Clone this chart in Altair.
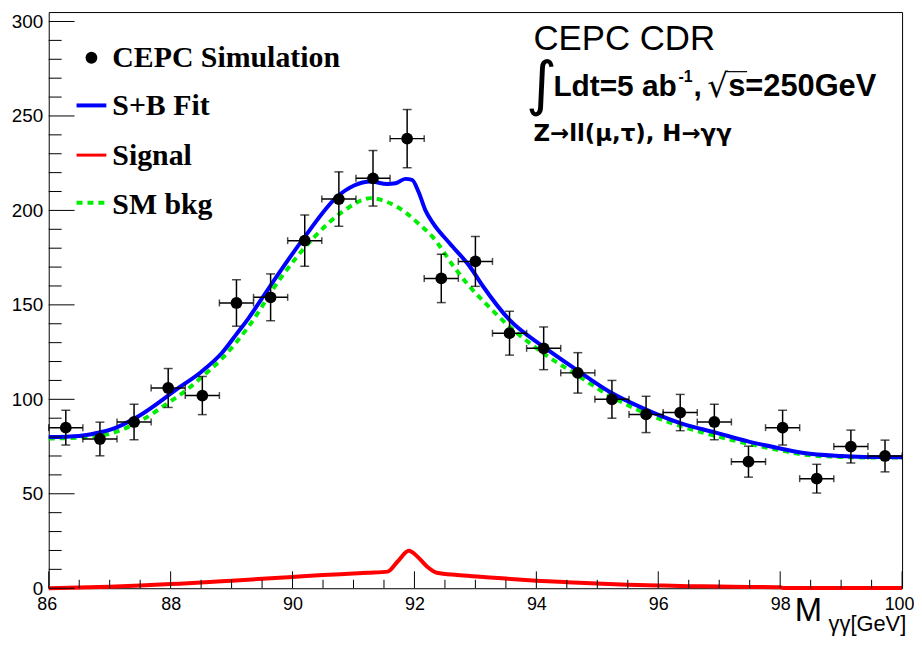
import altair as alt
import pandas as pd

# ---------------- data ----------------
bin_center = [86.28, 86.84, 87.40, 87.96, 88.52, 89.08, 89.64, 90.20, 90.76, 91.32,
              91.88, 92.44, 93.00, 93.56, 94.12, 94.68, 95.24, 95.80, 96.36, 96.92,
              97.48, 98.04, 98.60, 99.16, 99.72]
counts = [85, 79, 88, 106, 102, 151, 154, 184, 206, 217,
          238, 164, 173, 135, 127, 114, 100, 92, 93, 88,
          67, 85, 58, 75, 70]
count_err = [9.2, 8.9, 9.4, 10.3, 10.1, 12.3, 12.4, 13.6, 14.4, 14.7,
             15.4, 12.8, 13.2, 11.6, 11.3, 10.7, 10.0, 9.6, 9.6, 9.4,
             8.2, 9.2, 7.6, 8.7, 8.4]
BIN_HALF = 0.28

fit_x = [86.0, 86.5, 86.83, 87.0, 87.48, 88.13, 88.5, 88.84, 89.08, 89.28, 89.49, 89.76,
         90.2, 90.74, 91.01, 91.28, 91.55, 91.69, 91.85, 91.96, 92.07, 92.18,
         92.31, 92.58, 92.91, 93.13, 93.56, 94.11, 94.65, 95.2, 95.79, 96.4,
         96.93, 97.5, 98.0, 98.39, 99.0, 99.5, 100.0]
fit_y = [80.0, 80.6, 82.5, 83.8, 91.2, 106.0, 114.5, 124.5, 134.5, 143.0, 153.0, 166.0,
         186.0, 207.5, 213.2, 215.3, 214.0, 214.4, 216.7, 216.2, 209.6, 200.0,
         193.0, 182.5, 170.2, 159.6, 142.0, 128.0, 115.8, 104.0, 94.7, 87.0,
         82.5, 77.5, 74.0, 71.6, 70.0, 69.4, 69.3]

bkg_x = [86.0, 86.5, 87.0, 87.5, 88.0, 88.24, 88.5, 88.84, 89.28, 89.82, 90.36,
         90.85, 91.28, 91.55, 91.85, 92.05, 92.31, 92.64, 92.91, 93.13, 93.56,
         94.11, 94.65, 95.2, 95.79, 96.4, 96.93, 97.5, 98.0, 98.39, 99.0, 99.5, 100.0]
bkg_y = [79.2, 79.8, 81.8, 88.5, 99.0, 104.4, 111.5, 121.5, 138.6, 164.9, 186.0,
         200.0, 206.5, 204.5, 199.0, 193.5, 185.5, 170.5, 159.5, 152.0, 138.5,
         124.5, 113.2, 102.0, 92.6, 85.5, 80.7, 76.3, 73.0, 70.7, 69.5, 69.2, 69.2]

sig_x = [86.0, 86.5, 87.0, 87.5, 88.0, 88.5, 89.0, 89.5, 90.0, 90.5, 91.0, 91.23,
         91.56, 91.72, 91.91, 92.05, 92.21, 92.37, 92.70, 93.08, 93.5, 94.0, 94.5,
         95.0, 95.5, 96.0, 96.5, 97.0, 97.5, 98.0, 98.05, 100.0]
sig_y = [0.0, 0.4, 0.8, 1.4, 2.2, 3.0, 4.0, 5.0, 6.0, 7.0, 7.8, 8.2,
         8.8, 14.0, 19.8, 16.7, 11.4, 8.2, 7.0, 6.1, 5.1, 4.0, 3.2,
         2.5, 1.9, 1.5, 1.1, 0.9, 0.7, 0.5, 0.1, 0.1]

x_major = [86, 88, 90, 92, 94, 96, 98, 100]
x_minor = [v / 2 for v in range(172, 201) if v % 4 != 0]
y_major = [0, 50, 100, 150, 200, 250, 300]
y_minor = [v for v in range(10, 301, 10) if v % 50 != 0]

legend_labels = ["CEPC Simulation", "S+B Fit", "Signal", "SM bkg"]

# ---------------- frames ----------------
pts = pd.DataFrame({"x": bin_center, "y": counts, "err": count_err})
pts["xlo"] = pts["x"] - BIN_HALF
pts["xhi"] = pts["x"] + BIN_HALF
pts["ylo"] = pts["y"] - pts["err"]
pts["yhi"] = pts["y"] + pts["err"]

W, H = 859, 580
xs = alt.Scale(domain=[86, 100], nice=False, zero=False)
ys = alt.Scale(domain=[0, 305], nice=False, zero=False)
x_axis = alt.Axis(values=x_major, title=None, grid=False, ticks=False, tickSize=0,
                  domain=False, labelFont="Liberation Sans", labelFontSize=18,
                  labelColor="black", labelPadding=7, labelFlush=True,
                  labelFlushOffset=12, format="d")
y_axis = alt.Axis(values=y_major, title=None, grid=False, ticks=False, tickSize=0,
                  domain=False, labelFont="Liberation Sans", labelFontSize=19,
                  labelColor="black", labelPadding=6, format="d")


def X(f):
    return alt.X(f, type="quantitative", scale=xs, axis=x_axis)


def Y(f):
    return alt.Y(f, type="quantitative", scale=ys, axis=y_axis)


sig_line = alt.Chart(pd.DataFrame({"x": sig_x, "y": sig_y})).mark_line(
    color="#ff0000", strokeWidth=4, interpolate="monotone").encode(x=X("x"), y=Y("y"))
bkg_line = alt.Chart(pd.DataFrame({"x": bkg_x, "y": bkg_y})).mark_line(
    color="#00ee00", strokeWidth=4, strokeDash=[6, 5], interpolate="monotone").encode(x=X("x"), y=Y("y"))
fit_line = alt.Chart(pd.DataFrame({"x": fit_x, "y": fit_y})).mark_line(
    color="#0000ff", strokeWidth=4, interpolate="monotone").encode(x=X("x"), y=Y("y"))

base = alt.Chart(pts)
vbar = base.mark_rule(color="black", strokeWidth=1.5).encode(x=X("x"), y=Y("ylo"), y2=alt.Y2("yhi"))
hbar = base.mark_rule(color="black", strokeWidth=1.5).encode(x=X("xlo"), x2=alt.X2("xhi"), y=Y("y"))
xcaps = base.transform_fold(["xlo", "xhi"], as_=["k", "xc"]).mark_tick(
    color="black", orient="vertical", size=7, thickness=1.5).encode(x=X("xc"), y=Y("y"))
ycaps = base.transform_fold(["ylo", "yhi"], as_=["k", "yc"]).mark_tick(
    color="black", orient="horizontal", size=9, thickness=1.5).encode(x=X("x"), y=Y("yc"))
dots = base.mark_circle(color="black", size=140, opacity=1).encode(x=X("x"), y=Y("y"))

# inward ticks
xt_major = alt.Chart(pd.DataFrame({"v": x_major})).mark_rule(color="black", strokeWidth=1).encode(
    x=X("v"), y=alt.value(H), y2=alt.value(H - 17))
xt_minor = alt.Chart(pd.DataFrame({"v": x_minor})).mark_rule(color="black", strokeWidth=1).encode(
    x=X("v"), y=alt.value(H), y2=alt.value(H - 8.5))
yt_major = alt.Chart(pd.DataFrame({"v": y_major})).mark_rule(color="black", strokeWidth=1).encode(
    y=Y("v"), x=alt.value(0), x2=alt.value(26))
yt_minor = alt.Chart(pd.DataFrame({"v": y_minor})).mark_rule(color="black", strokeWidth=1).encode(
    y=Y("v"), x=alt.value(0), x2=alt.value(13))


def txt(s, x, y, size, font="Liberation Sans", weight="normal", align="left"):
    return alt.Chart(pd.DataFrame({"t": [s]})).mark_text(
        font=font, fontSize=size, fontWeight=weight, align=align,
        baseline="alphabetic", color="black").encode(
        text="t:N", x=alt.value(x), y=alt.value(y))


# legend
leg_font = "Liberation Serif"
leg_dot = alt.Chart(pd.DataFrame({"t": [legend_labels[0]]})).mark_circle(
    color="black", size=140, opacity=1).encode(x=alt.value(43), y=alt.value(46))
leg_blue = alt.Chart(pd.DataFrame({"t": [legend_labels[1]]})).mark_rule(
    color="#0000ff", strokeWidth=4).encode(x=alt.value(28), x2=alt.value(58), y=alt.value(94))
leg_red = alt.Chart(pd.DataFrame({"t": [legend_labels[2]]})).mark_rule(
    color="#ff0000", strokeWidth=3).encode(x=alt.value(28), x2=alt.value(58), y=alt.value(144))
leg_green = alt.Chart(pd.DataFrame({"t": [legend_labels[3]]})).mark_rule(
    color="#00ee00", strokeWidth=4, strokeDash=[6, 5]).encode(x=alt.value(28), x2=alt.value(58), y=alt.value(192))
leg_texts = [txt(legend_labels[0], 64, 55, 30, leg_font, "bold"),
             txt(legend_labels[1], 64, 104, 30, leg_font, "bold"),
             txt(legend_labels[2], 64, 154, 30, leg_font, "bold"),
             txt(legend_labels[3], 64, 203, 30, leg_font, "bold")]

# annotation block
ann = [
    txt("CEPC CDR", 488, 38, 35),
    txt("∫", 496, 93, 60, "DejaVu Sans", "normal", "center"),
    txt("Ldt=5 ab", 508, 84, 30, weight="bold"),
    txt("-1", 634, 70, 16, weight="bold"),
    txt(",", 649, 84, 30, weight="bold"),
    txt("√", 684, 86, 33, "DejaVu Sans", "normal", "right"),
    txt("s=250GeV", 833, 84, 31, weight="bold", align="right"),
    txt("Z→ll(μ,τ), H→γγ", 488, 130, 23, "DejaVu Sans", "bold"),
    txt("M", 751, 613, 33),
    txt("γγ[GeV]", 785, 623, 22),
]
overline = alt.Chart(pd.DataFrame({"t": ["s"]})).mark_rule(color="black", strokeWidth=1.2).encode(
    x=alt.value(683), x2=alt.value(703), y=alt.value(60))

chart = alt.layer(
    sig_line, bkg_line, fit_line, vbar, hbar, xcaps, ycaps, dots,
    xt_major, xt_minor, yt_major, yt_minor,
    leg_dot, leg_blue, leg_red, leg_green, *leg_texts, *ann, overline
).properties(
    width=W, height=H,
    autosize=alt.AutoSizeParams(type="none"),
    padding={"left": 41, "top": 2, "right": 12, "bottom": 46},
    background="white",
).configure_view(stroke="black", strokeWidth=1)

chart.save("out.html", embed_options={"renderer": "svg", "actions": False})
